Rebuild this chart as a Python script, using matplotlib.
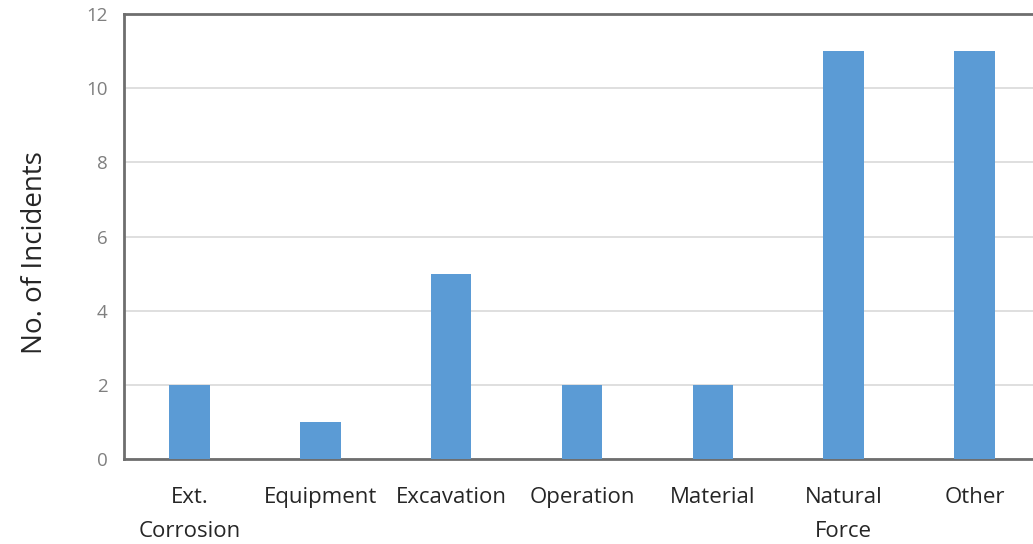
import matplotlib
matplotlib.use("Agg")
import matplotlib.pyplot as plt

categories = ["Ext.\nCorrosion", "Equipment", "Excavation", "Operation",
              "Material", "Natural\nForce", "Other"]
incidents = [2, 1, 5, 2, 2, 11, 11]
y_ticks = [0, 2, 4, 6, 8, 10, 12]

plt.rcParams["font.family"] = ["Open Sans", "DejaVu Sans"]

fig = plt.figure(figsize=(10.33, 5.44), dpi=100)
W, H = 1033, 544
left, right, top, bottom = 124, 1040, 14, 459
ax = fig.add_axes([left / W, 1 - bottom / H, (right - left) / W, (bottom - top) / H])

x = range(len(categories))
ax.bar(x, incidents, width=0.31, color="#5B9BD5", zorder=3)

ax.set_xlim(-0.5, len(categories) - 0.5)
ax.set_ylim(0, 12)
ax.set_yticks(y_ticks)
ax.set_xticks(list(x))
ax.set_xticklabels(categories, fontsize=16, color="#262626", linespacing=1.8)
ax.tick_params(axis="x", length=0, pad=20)
ax.tick_params(axis="y", length=0, pad=12, labelsize=13.5, labelcolor="#7F7F7F")
ax.yaxis.grid(True, color="#D9D9D9", linewidth=1.2, zorder=0)
ax.set_axisbelow(True)

for side in ("left", "top", "bottom"):
    ax.spines[side].set_color("#6E6E6E")
    ax.spines[side].set_linewidth(2)
ax.spines["right"].set_visible(False)

ax.set_ylabel("No. of Incidents", fontsize=20, color="#262626")
ax.yaxis.set_label_coords(-0.082, 0.465)

fig.savefig("out.png", dpi=100)
